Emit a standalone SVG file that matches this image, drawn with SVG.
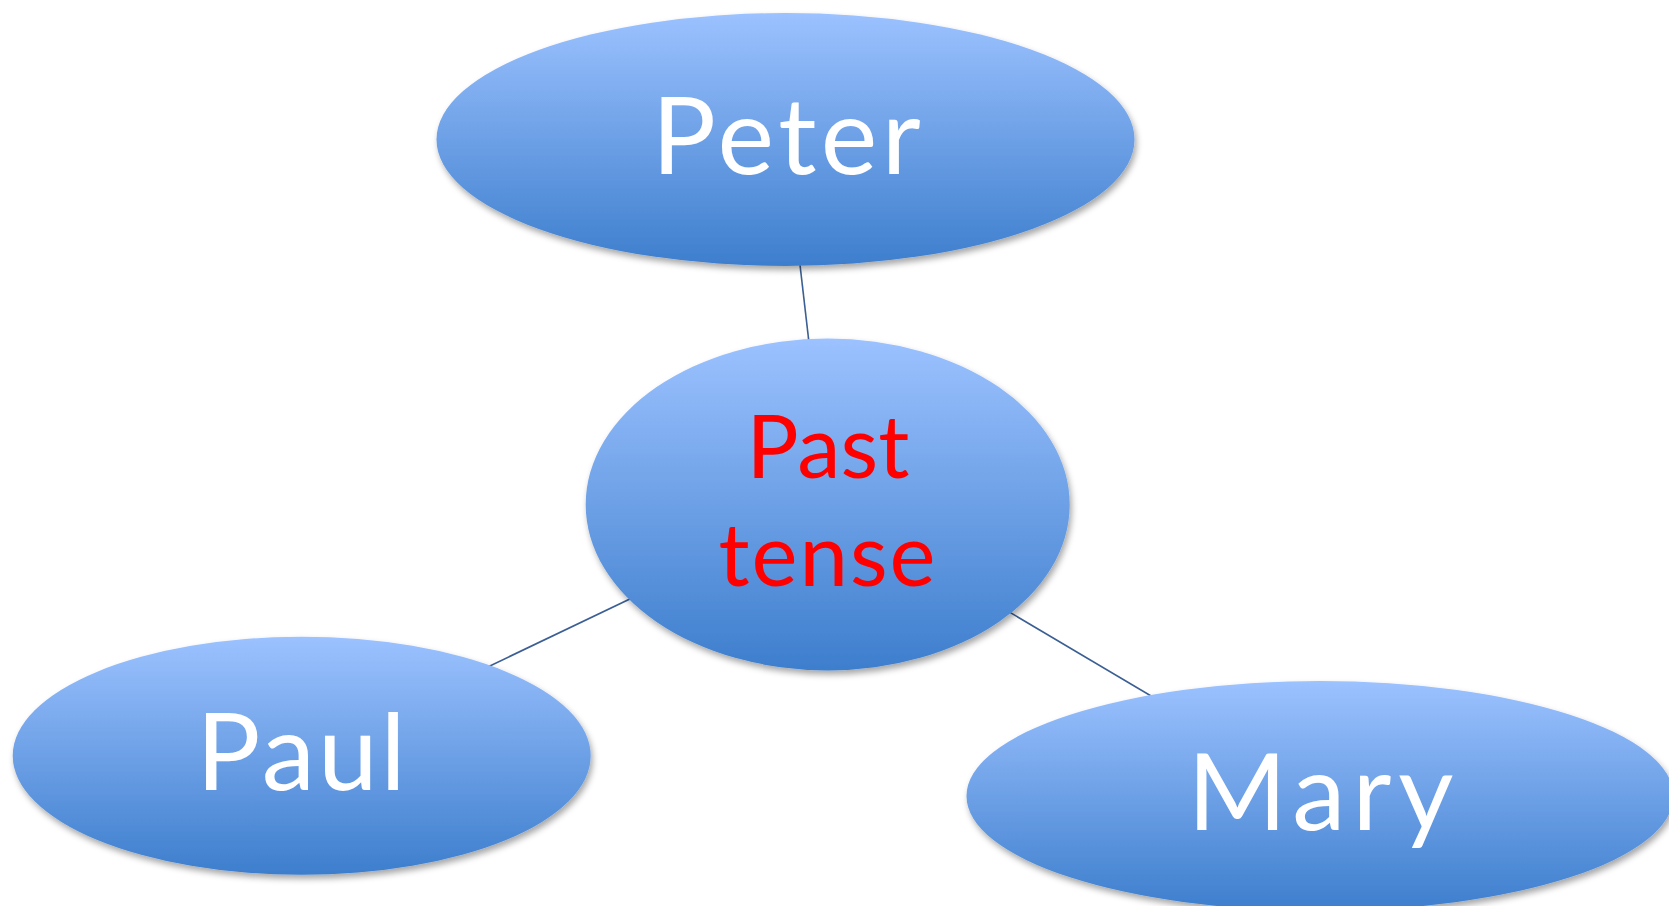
<svg xmlns="http://www.w3.org/2000/svg" width="1669" height="906" viewBox="0 0 1669 906">
  <defs>
    <linearGradient id="fillBlue" x1="0" y1="0" x2="0" y2="1">
      <stop offset="0" stop-color="#9cc2ff"/>
      <stop offset="1" stop-color="#3d7ecd"/>
    </linearGradient>
    <filter id="shadow" x="-10%" y="-10%" width="125%" height="130%">
      <feDropShadow dx="2" dy="4" stdDeviation="3" flood-color="#000" flood-opacity="0.35"/>
    </filter>
  </defs>
  <style>
    .bubble { fill: url(#fillBlue); filter: url(#shadow); }
    .link { stroke: #3b5f94; stroke-width: 1.6; fill: none; }
    .name { font-family: Lato, "Open Sans", sans-serif; font-size: 107px; fill: #ffffff; text-anchor: middle; }
    .topic { font-family: Lato, "Open Sans", sans-serif; font-size: 87px; fill: #ff0000; text-anchor: middle; }
  </style>
  <rect width="1669" height="906" fill="#ffffff"/>

  <!-- connectors run centre to centre, hidden under the bubbles -->
  <g id="connectors">
    <line class="link" x1="785.5" y1="139.5" x2="827.7" y2="504.5"/>
    <line class="link" x1="827.7" y1="504.5" x2="301.7" y2="755.8"/>
    <line class="link" x1="827.7" y1="504.5" x2="1320" y2="796"/>
  </g>

  <g id="peter">
    <ellipse class="bubble" cx="785.5" cy="139.5" rx="349" ry="126.5"/>
    <text class="name" x="788.5" y="173.5" letter-spacing="4.5">Peter</text>
  </g>

  <g id="past-tense">
    <ellipse class="bubble" cx="827.7" cy="504.5" rx="242" ry="166"/>
    <text class="topic" x="828" y="478">Past</text>
    <text class="topic" x="828" y="585.5" letter-spacing="2">tense</text>
  </g>

  <g id="paul">
    <ellipse class="bubble" cx="301.7" cy="755.8" rx="289" ry="119"/>
    <text class="name" x="302.5" y="790" letter-spacing="3">Paul</text>
  </g>

  <g id="mary">
    <ellipse class="bubble" cx="1320" cy="796" rx="353.5" ry="115"/>
    <text class="name" x="1324" y="830" letter-spacing="7">Mary</text>
  </g>
</svg>
